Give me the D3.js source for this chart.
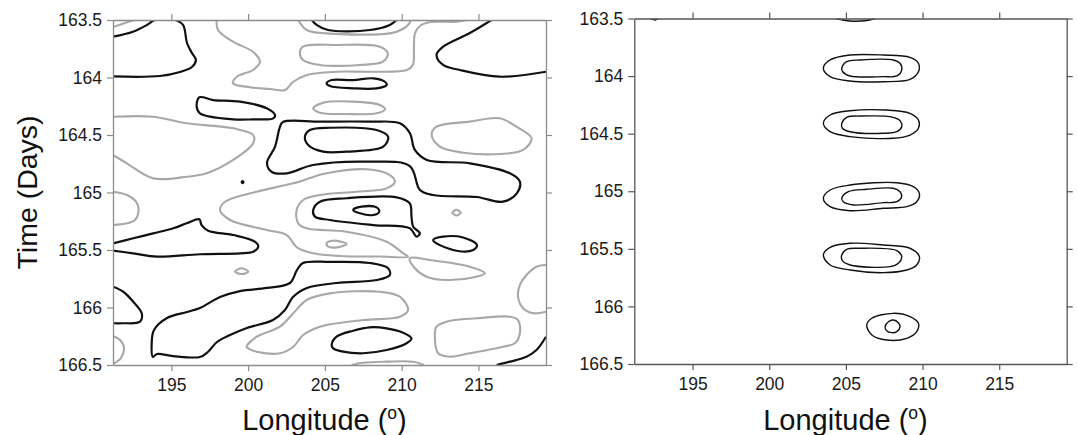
<!DOCTYPE html>
<html><head><meta charset="utf-8">
<script src="https://cdn.jsdelivr.net/npm/d3@7"></script>
<style>html,body{margin:0;padding:0;background:#fff;}svg{display:block;}</style>
</head><body>
<svg id="chart" width="1077" height="435"></svg>
<script>
// ---------- data ----------
const lonDomain = [191.2, 219.4];
const dayDomain = [163.5, 166.5];
const lonTicks = [195, 200, 205, 210, 215];
const dayTicks = [163.5, 164, 164.5, 165, 165.5, 166, 166.5];
const xTitle = "Longitude (";
const xTitleSup = "o";
const yTitle = "Time (Days)";

// Left panel: black contours (open = touch the frame, closed = loops) [lon, day]
const bL1 = [[191.2,163.645],[192.5,163.602],[193.41,163.543],[193.93,163.5],[195.24,163.5],[195.76,163.543],[196.02,163.70],[196.34,163.787],[196.6,163.848],[196.34,163.909],[195.56,163.952],[194.26,163.987],[191.2,163.991]];
const bTop = [[204.15,163.5],[204.46,163.543],[205.2,163.587],[207.93,163.587],[209.23,163.543],[209.67,163.5]];
const bTopRight = [[215.85,163.5],[214.44,163.613],[212.7,163.732],[212.27,163.804],[212.7,163.891],[213.79,163.935],[216.39,163.993],[219.4,163.95]];
const bMidLeft = [[191.2,165.442],[192.52,165.398],[193.82,165.355],[195.13,165.311],[196.0,165.268],[196.82,165.233],[196.97,165.283],[197.4,165.332],[199.03,165.37],[200.44,165.428],[200.66,165.471],[200.33,165.515],[199.47,165.529],[196.86,165.537],[194.05,165.558],[192.52,165.529],[191.2,165.506]];
const bLowLeft = [[191.2,165.819],[191.87,165.863],[192.52,165.95],[193.07,166.05],[192.96,166.123],[191.87,166.137],[191.2,166.137]];
const bBotRight = [[216.18,166.5],[217.05,166.471],[218.13,166.428],[218.78,166.37],[219.4,166.254]];

const bLoop164 = [[205.11,164.05],[205.44,164.022],[206.84,164.022],[208.15,164.007],[208.91,164.037],[209.02,164.065],[208.37,164.094],[206.84,164.094],[205.33,164.074]];
const bLoop1642 = [[196.82,164.172],[196.65,164.254],[196.86,164.311],[199.03,164.364],[200.33,164.364],[201.64,164.355],[201.75,164.326],[201.21,164.268],[199.47,164.21],[197.73,164.196]];
const bBig = [[202.27,164.387],[204.68,164.384],[207.93,164.384],[209.88,164.398],[210.53,164.483],[210.86,164.63],[211.64,164.717],[214.44,164.746],[217.05,164.833],[217.7,164.906],[217.5,165.007],[216.59,165.08],[214.9,165.039],[212.03,165.022],[211.19,164.978],[210.53,164.77],[207.93,164.732],[204.22,164.761],[202.53,164.833],[201.55,164.822],[201.23,164.743],[201.75,164.604],[202.07,164.43]];
const bLoop1645 = [[203.7,164.515],[204.02,164.457],[205.33,164.437],[208.37,164.457],[209.12,164.515],[208.8,164.602],[206.41,164.645],[204.89,164.645],[203.91,164.587]];
const bLoop1652 = [[204.24,165.152],[204.68,165.08],[206.41,165.05],[209.67,165.042],[210.53,165.094],[210.64,165.21],[210.75,165.297],[211.19,165.355],[210.97,165.384],[210.53,165.311],[208.15,165.283],[205.33,165.239],[204.35,165.21]];
const bInner1652 = [[206.84,165.152],[207.39,165.123],[208.37,165.129],[208.54,165.167],[208.15,165.196],[207.28,165.181]];
const bDot = [[199.58,164.909],[199.64,164.9],[199.7,164.909],[199.64,164.918]];
const bLoop1654 = [[212.05,165.413],[212.7,165.384],[214.0,165.391],[214.9,165.457],[214.66,165.5],[213.66,165.509],[212.27,165.442]];
const bLowBig = [[193.8,166.43],[193.72,166.311],[193.87,166.196],[194.72,166.091],[196.02,166.039],[196.86,166.004],[198.17,165.909],[199.47,165.857],[201.23,165.83],[202.72,165.787],[203.18,165.674],[203.57,165.613],[205.33,165.604],[207.93,165.613],[209.1,165.657],[209.23,165.717],[208.39,165.761],[205.78,165.787],[203.83,165.83],[202.92,165.909],[202.4,166.022],[201.62,166.109],[199.92,166.178],[198.82,166.239],[197.97,166.3],[197.38,166.387],[196.86,166.43],[195.11,166.422],[194.06,166.404]];
const bLoop1663 = [[205.44,166.326],[205.76,166.254],[206.84,166.202],[207.93,166.172],[209.02,166.181],[210.1,166.219],[210.64,166.268],[210.32,166.311],[209.02,166.37],[207.49,166.398],[206.19,166.384],[205.54,166.355]];

// Left panel: grey contours
const gCorner = [[191.2,163.561],[191.98,163.526],[192.57,163.5]];
const gLong = [[197.95,163.5],[198.04,163.587],[199.01,163.689],[200.31,163.776],[200.77,163.863],[200.31,163.935],[199.27,163.993],[199.01,164.05],[200.12,164.085],[201.42,164.1],[202.4,164.109],[202.92,164.039],[203.83,163.978],[205.78,163.95],[207.93,163.95],[210.34,163.935],[210.73,163.891],[210.8,163.735],[210.86,163.62],[211.2,163.55],[211.9,163.518],[213.6,163.515],[214.25,163.5]];
const gTop = [[203.26,163.5],[203.81,163.587],[205.11,163.616],[209.23,163.616],[210.08,163.578],[210.47,163.535],[210.6,163.5]];
const gLeft1644 = [[191.2,164.341],[193.82,164.341],[196.0,164.398],[199.03,164.442],[200.33,164.5],[200.33,164.572],[199.03,164.717],[197.3,164.833],[196.0,164.863],[193.82,164.877],[192.09,164.746],[191.2,164.674]];
const gLeft1651 = [[191.2,164.993],[192.11,165.022],[192.76,165.091],[192.85,165.178],[192.63,165.239],[192.11,165.268],[191.2,165.283]];
const gBotLeft = [[191.2,166.248],[191.66,166.283],[191.92,166.355],[191.7,166.442],[191.2,166.491]];
const gBottom = [[206.74,166.5],[207.49,166.48],[209.02,166.471],[210.75,166.471],[211.45,166.5]];
const gRightEdge = [[219.4,165.63],[218.78,165.645],[218.13,165.717],[217.7,165.804],[217.58,165.906],[217.91,166.007],[218.56,166.05],[219.4,166.037]];

const gLoop1638 = [[203.37,163.79],[203.57,163.732],[205.78,163.717],[208.58,163.732],[209.1,163.79],[208.78,163.863],[207.28,163.891],[204.68,163.891],[203.57,163.848]];
const gLoop1643 = [[204.24,164.268],[204.89,164.219],[206.84,164.21],[208.58,164.239],[208.91,164.277],[208.37,164.311],[206.41,164.317],[204.68,164.306]];
const gLoopRight = [[211.95,164.5],[212.27,164.428],[214.44,164.384],[216.39,164.355],[217.48,164.428],[218.46,164.529],[217.91,164.63],[216.39,164.665],[214.0,164.654],[212.49,164.602]];
const gHook = [[198.17,165.152],[198.49,165.08],[200.56,164.993],[202.94,164.92],[205.11,164.833],[207.72,164.798],[209.23,164.848],[209.56,164.906],[209.02,164.964],[207.07,164.993],[204.68,165.022],[203.59,165.065],[203.16,165.152],[203.26,165.268],[203.81,165.311],[206.41,165.341],[209.02,165.428],[210.1,165.529],[210.42,165.558],[208.58,165.557],[205.98,165.552],[204.24,165.529],[203.2,165.48],[202.51,165.37],[201.21,165.326],[198.82,165.239]];
const gSmall1654 = [[205.11,165.442],[205.54,165.419],[206.41,165.448],[205.76,165.477],[205.22,165.471]];
const gTiny1652 = [[213.3,165.176],[213.57,165.15],[213.85,165.176],[213.57,165.2]];
const gTiny1657 = [[199.14,165.689],[199.58,165.659],[200.01,165.689],[199.58,165.709]];
const gLowLoop = [[199.9,166.341],[200.56,166.254],[202.07,166.167],[202.94,166.05],[203.81,165.935],[205.33,165.877],[208.58,165.863],[209.88,165.906],[210.42,166.022],[209.88,166.08],[207.49,166.109],[204.68,166.167],[203.59,166.239],[202.94,166.341],[202.07,166.398],[200.56,166.384],[200.01,166.355]];
const gLoopLowRight = [[212.16,166.254],[212.27,166.167],[212.92,166.123],[214.88,166.094],[217.05,166.08],[217.58,166.109],[217.7,166.224],[217.37,166.311],[216.61,166.341],[214.44,166.398],[213.14,166.428],[212.38,166.398]];
const gLoop1657 = [[210.53,165.572],[210.86,165.659],[211.62,165.732],[212.92,165.761],[214.88,165.732],[215.42,165.703],[214.44,165.645],[211.84,165.587]];

// Right panel: black contours
const rA1 = [[203.53,163.932],[203.97,163.86],[205.27,163.817],[207.44,163.817],[209.18,163.837],[209.73,163.889],[209.73,163.962],[209.18,164.028],[207.44,164.049],[205.27,164.043],[203.97,164.005]];
const rA2 = [[204.73,163.932],[205.05,163.875],[205.92,163.86],[208.09,163.86],[208.53,163.889],[208.64,163.947],[208.32,163.999],[207.44,164.005],[205.27,163.999],[204.79,163.962]];
const rB1 = [[203.53,164.41],[203.97,164.338],[205.27,164.301],[207.66,164.295],[209.18,164.323],[209.73,164.381],[209.73,164.453],[209.18,164.512],[208.09,164.54],[205.27,164.526],[203.97,164.483]];
const rB2 = [[204.73,164.41],[205.05,164.358],[205.92,164.347],[208.09,164.358],[208.53,164.387],[208.64,164.44],[208.32,164.483],[207.44,164.497],[205.27,164.483],[204.77,164.453]];
const rC1 = [[203.53,165.061],[203.97,164.989],[205.27,164.946],[208.32,164.926],[209.4,164.96],[209.79,165.018],[209.62,165.091],[208.97,165.134],[207.44,165.148],[205.27,165.169],[203.97,165.134]];
const rC2 = [[204.73,165.061],[205.16,165.004],[206.36,164.983],[208.09,164.974],[208.53,165.004],[208.64,165.047],[208.32,165.091],[207.44,165.099],[205.49,165.119],[204.83,165.091]];
const rD1 = [[203.53,165.554],[203.97,165.487],[205.27,165.452],[207.44,165.467],[209.18,165.495],[209.79,165.568],[209.62,165.64],[208.97,165.684],[207.44,165.707],[205.27,165.684],[203.97,165.64]];
const rD2 = [[204.73,165.554],[205.05,165.504],[205.92,165.495],[208.32,165.516],[208.64,165.568],[208.42,165.626],[207.88,165.655],[205.27,165.64],[204.77,165.603]];
const rE1 = [[206.36,166.161],[206.69,166.103],[208.09,166.06],[209.18,166.089],[209.73,166.147],[209.62,166.219],[208.97,166.277],[207.66,166.292],[206.69,166.248]];
const rE2 = [[207.55,166.176],[207.77,166.133],[208.09,166.118],[208.42,166.141],[208.53,166.176],[208.32,166.219],[207.99,166.228],[207.66,166.211]];
const rTop = [[204.36,163.5],[205.27,163.522],[206.38,163.517],[206.9,163.5]];
const rTopLeft = [[192.29,163.5],[192.55,163.513],[192.75,163.5]];

const leftBlackOpen = [bL1, bTop, bTopRight, bMidLeft, bLowLeft, bBotRight];
const leftBlackClosed = [bLoop164, bLoop1642, bBig, bLoop1645, bLoop1652, bInner1652, bDot, bLoop1654, bLowBig, bLoop1663];
const leftGreyOpen = [gCorner, gLong, gTop, gLeft1644, gLeft1651, gBotLeft, gBottom, gRightEdge];
const leftGreyClosed = [gLoop1638, gLoop1643, gLoopRight, gHook, gSmall1654, gTiny1652, gTiny1657, gLowLoop, gLoopLowRight, gLoop1657];
const rightOpen = [rTop, rTopLeft];
const rightClosed = [rA1, rA2, rB1, rB2, rC1, rC2, rD1, rD2, rE1, rE2];

// ---------- drawing ----------
const svg = d3.select("#chart");
const FONT = "'Liberation Sans', Arial, Helvetica, sans-serif";

function panel(id, x0, x1, y0, y1, axisColor, showYTitle) {
  const x = d3.scaleLinear().domain(lonDomain).range([x0, x1]);
  const y = d3.scaleLinear().domain(dayDomain).range([y0, y1]);
  const g = svg.append("g");
  g.append("clipPath").attr("id", id).append("rect")
    .attr("x", x0).attr("y", y0).attr("width", x1 - x0).attr("height", y1 - y0);
  const plot = g.append("g").attr("clip-path", `url(#${id})`);

  const axB = g.append("g").attr("transform", `translate(0,${y1})`)
    .call(d3.axisBottom(x).tickValues(lonTicks).tickSize(6).tickSizeOuter(0).tickPadding(4).tickFormat(d3.format("d")));
  const axT = g.append("g").attr("transform", `translate(0,${y0})`)
    .call(d3.axisTop(x).tickValues(lonTicks).tickSize(6).tickSizeOuter(0).tickFormat(""));
  const axL = g.append("g").attr("transform", `translate(${x0},0)`)
    .call(d3.axisLeft(y).tickValues(dayTicks).tickSize(6).tickSizeOuter(0).tickPadding(5).tickFormat(d => String(d)));
  const axR = g.append("g").attr("transform", `translate(${x1},0)`)
    .call(d3.axisRight(y).tickValues(dayTicks).tickSize(6).tickSizeOuter(0).tickFormat(""));
  [axB, axT, axL, axR].forEach(a => {
    a.selectAll("path.domain").attr("stroke", axisColor).attr("stroke-width", 1.3);
    a.selectAll(".tick line").attr("stroke", axisColor).attr("stroke-width", 1.2);
    a.selectAll(".tick text").attr("font-family", FONT).attr("font-size", 17.5).attr("fill", "#1a1a1a");
  });
  axB.selectAll(".tick text").attr("dy", "0.9em");

  const t = g.append("text")
    .attr("x", (x0 + x1) / 2 - 5).attr("y", 430)
    .attr("text-anchor", "middle").attr("font-family", FONT).attr("font-size", 29).attr("fill", "#111");
  t.append("tspan").text(xTitle);
  t.append("tspan").attr("font-size", 17.5).attr("dy", -11).text(xTitleSup);
  t.append("tspan").attr("dy", 11).text(")");

  if (showYTitle) {
    g.append("text").attr("transform", `translate(37,${(y0 + y1) / 2}) rotate(-90)`)
      .attr("text-anchor", "middle").attr("font-family", FONT).attr("font-size", 28.5).attr("fill", "#111")
      .text(yTitle);
  }
  return { x, y, plot };
}

function draw(p, lines, closed, color, width) {
  const gen = d3.line().x(d => p.x(d[0])).y(d => p.y(d[1]))
    .curve(closed ? d3.curveCatmullRomClosed.alpha(0.5) : d3.curveCatmullRom.alpha(0.5));
  p.plot.selectAll(null).data(lines).join("path")
    .attr("d", gen).attr("fill", "none").attr("stroke", color)
    .attr("stroke-width", width).attr("stroke-linejoin", "round");
}

const L = panel("clipL", 113, 546, 20, 365, "#8c8c8c", true);
draw(L, leftGreyOpen, false, "#a8a8a8", 2.1);
draw(L, leftGreyClosed, true, "#a8a8a8", 2.1);
draw(L, leftBlackOpen, false, "#111", 2.2);
draw(L, leftBlackClosed, true, "#111", 2.2);

const R = panel("clipR", 634.3, 1066.7, 18.5, 364, "#555", false);
draw(R, rightOpen, false, "#111", 1.4);
draw(R, rightClosed, true, "#111", 1.4);
</script>
</body></html>
